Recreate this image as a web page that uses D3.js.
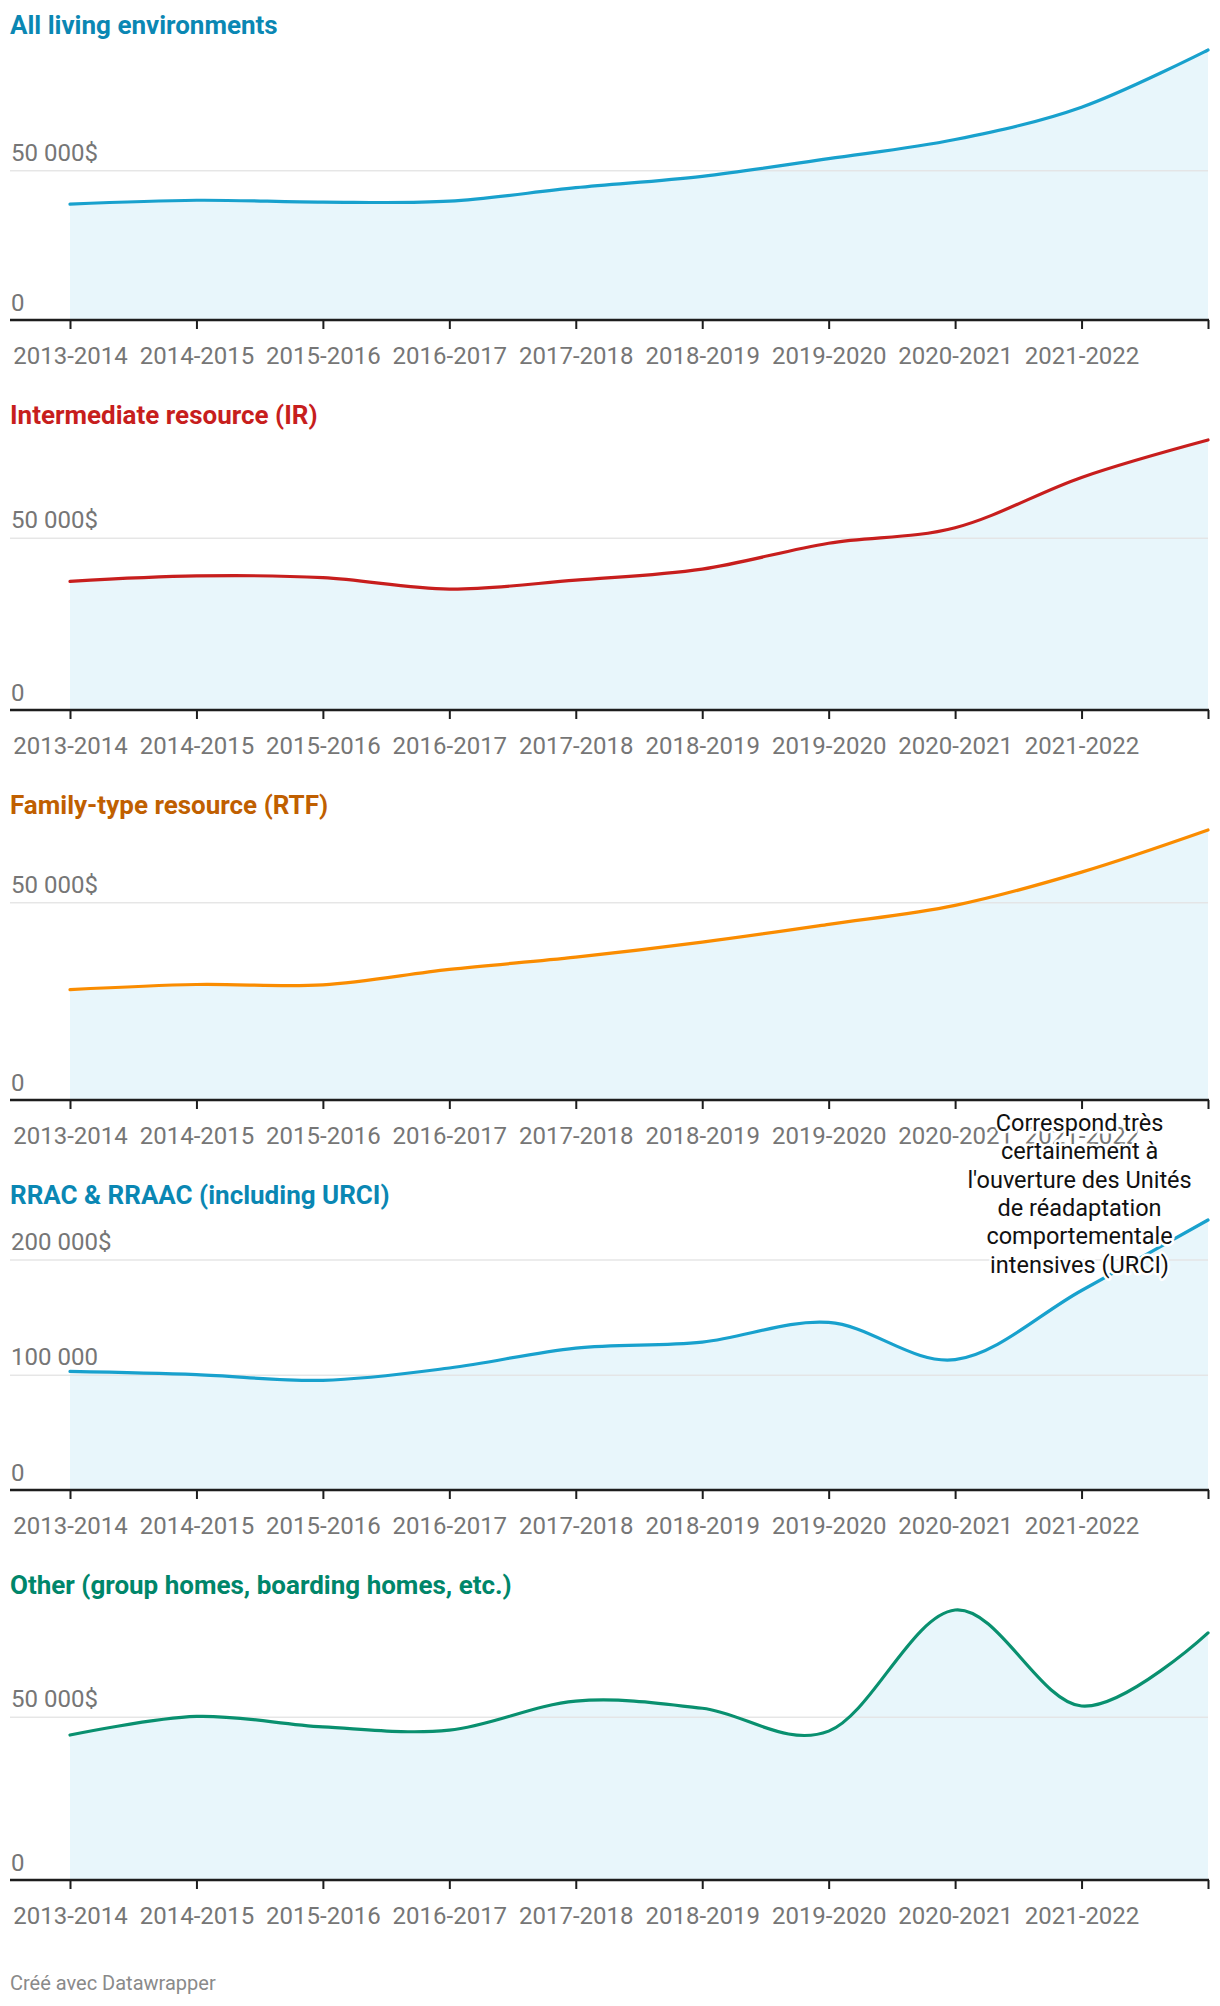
<!DOCTYPE html>
<html>
<head>
<meta charset="utf-8">
<script src="https://cdn.jsdelivr.net/npm/d3@7"></script>
<style>
  html, body { margin: 0; padding: 0; background: #fff; }
  svg { display: block; font-family: Roboto, "Noto Sans", sans-serif; }
</style>
</head>
<body>
<svg id="chart" width="1220" height="2006"></svg>
<script>
// ---------- data ----------
const categories = ["2013-2014","2014-2015","2015-2016","2016-2017","2017-2018","2018-2019","2019-2020","2020-2021","2021-2022","2022-2023"];

const allLivingEnvironments = [38700, 40000, 39400, 39700, 44200, 48000, 53900, 60300, 71100, 90200];
const intermediateResource  = [37350, 38900, 38400, 35100, 37700, 40900, 48400, 52900, 67500, 78350];
const familyTypeResource    = [27900, 29200, 29100, 33000, 36100, 39900, 44400, 49200, 57600, 68250];
const rracRraac             = [103000, 100200, 95200, 105900, 123200, 128400, 145500, 113200, 173200, 234400];
const otherHomes            = [44400, 50100, 46900, 45900, 54800, 52600, 45600, 82700, 53300, 75700];

const panelTitles = [
  "All living environments",
  "Intermediate resource (IR)",
  "Family-type resource (RTF)",
  "RRAC & RRAAC (including URCI)",
  "Other (group homes, boarding homes, etc.)"
];
const panelValues = [allLivingEnvironments, intermediateResource, familyTypeResource, rracRraac, otherHomes];
const panelYTicks = [[0, 50000], [0, 50000], [0, 50000], [0, 100000, 200000], [0, 50000]];

const annotationLines = [
  "Correspond très",
  "certainement à",
  "l'ouverture des Unités",
  "de réadaptation",
  "comportementale",
  "intensives (URCI)"
];
const annotationPanel = 3;
const annotationCategory = "2021-2022";
const footerText = "Créé avec Datawrapper";

// ---------- styles ----------
const lineColors  = ["#18a1cd", "#c71e1d", "#fa8c00", "#18a1cd", "#09906f"];
const titleColors = ["#0a87b3", "#c71e1d", "#c05f00", "#0a87b3", "#00866a"];
const areaFill = "#e8f6fb";
const gridColor = "#e3e3e3";
const labelColor = "#767676";

const blockH = 390;
const plotLeft = 10, plotRight = 1208;
const firstX = 70;
const titleY = 34, plotTop = 50, axisY = 320;

const locale = d3.formatLocale({decimal: ",", thousands: "\u00a0", grouping: [3], currency: ["", "$"]});
const fmt = locale.format(",d");

const svg = d3.select("#chart");

const x = d3.scalePoint().domain(categories).range([firstX, plotRight]);
const curve = d3.curveCardinal.tension(0);

panelValues.forEach((vals, i) => {
  const g = svg.append("g").attr("transform", `translate(0,${i * blockH})`);
  const y = d3.scaleLinear().domain([0, d3.max(vals)]).range([axisY, plotTop]);
  const ticks = panelYTicks[i];
  const topTick = d3.max(ticks);

  const data = categories.map((c, j) => ({c, v: vals[j]}));

  g.append("path")
    .datum(data)
    .attr("fill", areaFill)
    .attr("d", d3.area().x(d => x(d.c)).y0(y(0)).y1(d => y(d.v)).curve(curve));

  // y grid + labels
  const yAxis = d3.axisRight(y)
    .tickValues(ticks)
    .tickSize(plotRight - plotLeft)
    .tickFormat(d => d === topTick ? fmt(d) + "$" : fmt(d));
  const ya = g.append("g").attr("transform", `translate(${plotLeft},0)`).call(yAxis);
  ya.select(".domain").remove();
  ya.selectAll(".tick line").attr("stroke", gridColor).attr("stroke-width", 1.5).attr("stroke-opacity", 0.9);
  ya.selectAll(".tick text")
    .attr("x", 1).attr("dy", -10)
    .attr("fill", labelColor)
    .style("font-size", "24px")
    .style("font-family", "Roboto, sans-serif");

  g.append("path")
    .datum(data)
    .attr("fill", "none")
    .attr("stroke", lineColors[i])
    .attr("stroke-width", 3.2)
    .attr("stroke-linejoin", "round")
    .attr("stroke-linecap", "round")
    .attr("d", d3.line().x(d => x(d.c)).y(d => y(d.v)).curve(curve));

  // x axis
  const xAxis = d3.axisBottom(x)
    .tickSize(9)
    .tickPadding(18)
    .tickFormat((d, j) => j === categories.length - 1 ? "" : d);
  const xa = g.append("g").attr("transform", `translate(0,${axisY})`).call(xAxis);
  xa.select(".domain").remove();
  xa.selectAll(".tick line").attr("stroke", "#1d1d1d").attr("stroke-width", 2);
  xa.selectAll(".tick text")
    .attr("fill", labelColor)
    .style("font-size", "24px")
    .style("font-family", "Roboto, sans-serif");
  xa.append("line")
    .attr("x1", plotLeft).attr("x2", plotRight + 1)
    .attr("y1", 0).attr("y2", 0)
    .attr("stroke", "#1d1d1d").attr("stroke-width", 2.5);

  // title
  g.append("text")
    .attr("x", 10).attr("y", titleY)
    .attr("fill", titleColors[i])
    .style("font-size", "26px")
    .style("font-weight", "700")
    .text(panelTitles[i]);
});

// annotation (on top, with white halo)
const annX = x(annotationCategory) - 2;
const annG = svg.append("g").attr("transform", `translate(0,${annotationPanel * blockH})`);
annG.append("text")
  .attr("text-anchor", "middle")
  .style("font-size", "23.5px")
  .attr("fill", "#111")
  .attr("stroke", "#fff")
  .attr("stroke-width", 5)
  .attr("stroke-linejoin", "round")
  .attr("paint-order", "stroke")
  .selectAll("tspan")
  .data(annotationLines)
  .join("tspan")
  .attr("x", annX)
  .attr("y", (d, k) => -39 + k * 28.3)
  .text(d => d);

// footer
svg.append("text")
  .attr("x", 10).attr("y", 1990)
  .attr("fill", "#8a8a8a")
  .style("font-size", "20px")
  .text(footerText);
</script>
</body>
</html>
